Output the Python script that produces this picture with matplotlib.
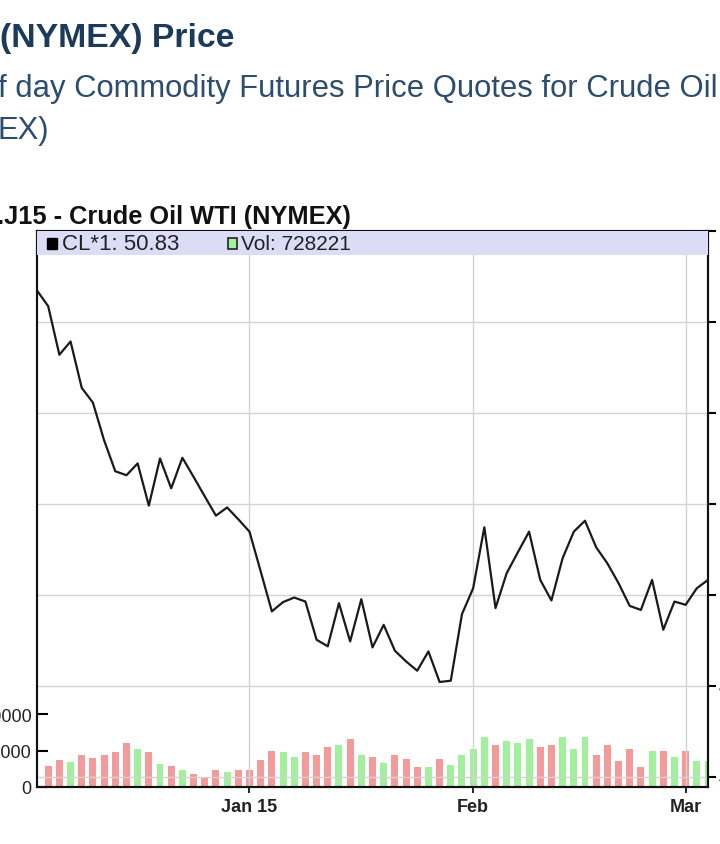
import numpy as np
import pandas as pd
import matplotlib
matplotlib.use('Agg')
import matplotlib.pyplot as plt
from matplotlib.patches import Rectangle

plt.rcParams['font.family'] = ['Liberation Sans', 'DejaVu Sans']

# trading days shown on the chart
holidays = ['2014-12-25', '2015-01-01', '2015-01-19', '2015-02-16']
days = pd.bdate_range('2014-12-04', '2015-03-04')
days = days[~days.isin(pd.to_datetime(holidays))]

# CL*1 close
price = [66.73, 65.87, 63.20, 63.93, 61.38, 60.57, 58.50, 56.80, 56.58, 57.23,
         54.91, 57.50, 55.86, 57.54, 56.49, 55.42, 54.36, 54.81, 54.16, 53.48,
         51.30, 49.10, 49.61, 49.86, 49.64, 47.54, 47.18, 49.55, 47.45, 49.77,
         47.12, 48.36, 46.94, 46.35, 45.84, 46.90, 45.22, 45.29, 48.95, 50.37,
         53.72, 49.28, 51.20, 52.35, 53.48, 50.83, 49.70, 52.02, 53.48, 54.08,
         52.62, 51.74, 50.65, 49.40, 49.18, 50.83, 48.09, 49.64, 49.46, 50.37,
         50.83]

# daily volume (first day has no bar)
volume = [570000, 735000, 680000, 890000, 790000, 890000, 955000, 1212000, 1047000, 955000,
          625000, 570000, 468000, 358000, 267000, 468000, 405000, 468000, 468000, 733000,
          992000, 950000, 826000, 950000, 882000, 1102000, 1157000, 1309000, 882000, 826000,
          661000, 882000, 771000, 551000, 551000, 771000, 606000, 882000, 1033000, 1364000,
          1157000, 1253000, 1198000, 1309000, 1102000, 1157000, 1364000, 1033000, 1364000, 882000,
          1157000, 716000, 1033000, 551000, 992000, 992000, 826000, 992000, 716000, 728221]

month_labels = ['Jan 15', 'Feb', 'Mar']
price_ticks = [40, 45, 50, 55, 60, 65, 70]
vol_ticks = [0, 1000000, 2000000]

W, H = 720, 845
fig = plt.figure(figsize=(W / 100, H / 100), dpi=100)
fig.patch.set_facecolor('white')

# page text above the chart (cropped in the screenshot)
fig.text(0 / W, 1 - 39 / H, '(NYMEX) Price', fontsize=24.3, fontweight='bold',
         color='#1c3b5a', va='center', ha='left')
fig.text(-2 / W, 1 - 89 / H, 'f day Commodity Futures Price Quotes for Crude Oil',
         fontsize=22.3, color='#2d4d6e', va='center', ha='left')
fig.text(-2 / W, 1 - 131 / H, 'EX)', fontsize=22.3, color='#2d4d6e', va='center', ha='left')
fig.text(-3 / W, 1 - 217 / H, '.J15 - Crude Oil WTI (NYMEX)', fontsize=18.3, fontweight='bold',
         color='#111111', va='center', ha='left')

left, right, top, bottom = 37, 708, 232, 788
ax = fig.add_axes([left / W, 1 - bottom / H, (right - left) / W, (bottom - top) / H])
ax2 = ax.twinx()

x = np.arange(len(price))
xv = np.arange(1, len(price))
up = np.diff(price) >= 0
colors = ['#a2f09c' if u else '#f49a9a' for u in up]
ax.bar(xv, volume, width=0.62, color=colors, zorder=2)
ax.set_ylim(0, 15.3e6)
ax.set_xlim(0, len(price) - 1)

# month ticks at the first trading day of each month
month = days.month
month_pos = [i for i in range(1, len(days)) if month[i] != month[i - 1]]
ax.set_xticks(month_pos)
ax.set_xticklabels(month_labels, fontsize=13, fontweight='bold', color='#222222')
ax.tick_params(axis='x', direction='out', length=4, width=1.2, pad=4)

ax.set_yticks(vol_ticks)
ax.set_yticklabels([str(v) for v in vol_ticks], fontsize=13, color='#222222')
ax.tick_params(axis='y', direction='in', length=8, width=1.5, pad=4)

ax2.plot(x, price, color='#1a1a1a', lw=1.6, zorder=3)
ax2.set_ylim(39.45, 70.0)
ax2.set_yticks(price_ticks)
ax2.set_yticklabels([str(p) for p in price_ticks], fontsize=13, color='#222222')
ax2.tick_params(axis='y', direction='out', length=6, width=1.5, pad=2)
ax2.set_xlim(0, len(price) - 1)
ax2.grid(True, color='#d3d3d3', lw=1.0, zorder=1)
for p in month_pos:
    ax2.axvline(p, color='#d3d3d3', lw=1.0, zorder=1)

for a in (ax, ax2):
    for s in a.spines.values():
        s.set_linewidth(1.5)
        s.set_color('#111111')

# legend band
pw, ph = right - left, bottom - top
ax2.add_patch(Rectangle((0, 1 - 24 / ph), 1, 24 / ph, transform=ax2.transAxes,
                        facecolor='#dcdcf6', edgecolor='none', zorder=4))
ax2.add_patch(Rectangle((10 / pw, 1 - 18 / ph), 10 / pw, 11 / ph, transform=ax2.transAxes,
                        facecolor='black', edgecolor='black', zorder=5))
ax2.text(25 / pw, 1 - 12 / ph, 'CL*1: 50.83', transform=ax2.transAxes,
         fontsize=16, color='#222222', va='center', ha='left', zorder=6)
ax2.add_patch(Rectangle((191 / pw, 1 - 18 / ph), 9 / pw, 11 / ph, transform=ax2.transAxes,
                        facecolor='#a2f09c', edgecolor='#222222', lw=1.2, zorder=5))
ax2.text(204 / pw, 1 - 12 / ph, 'Vol: 728221', transform=ax2.transAxes,
         fontsize=15, color='#222222', va='center', ha='left', zorder=6)

fig.savefig('out.png', dpi=100)
